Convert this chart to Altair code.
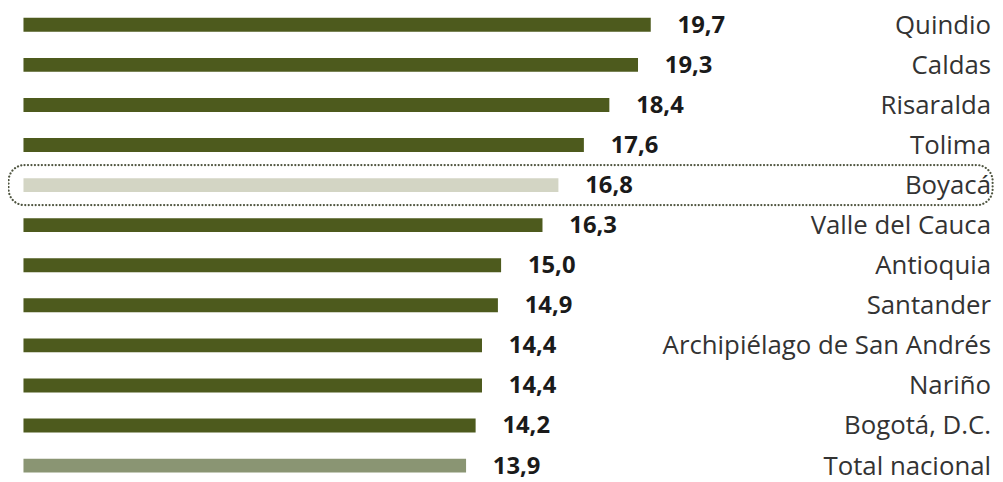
import altair as alt
import pandas as pd

categories = ["Quindio", "Caldas", "Risaralda", "Tolima", "Boyacá", "Valle del Cauca",
              "Antioquia", "Santander", "Archipiélago de San Andrés", "Nariño",
              "Bogotá, D.C.", "Total nacional"]
values = [19.7, 19.3, 18.4, 17.6, 16.8, 16.3, 15.0, 14.9, 14.4, 14.4, 14.2, 13.9]
groups = ["dep", "dep", "dep", "dep", "highlight", "dep",
          "dep", "dep", "dep", "dep", "dep", "total"]
highlight = ["Boyacá"]

df = pd.DataFrame({"categoria": categories, "valor": values, "grupo": groups})
df_hl = pd.DataFrame({"categoria": highlight})

W = 969.4
H = 474
FONT = "Open Sans"

y_enc = alt.Y("categoria:N", sort=categories, axis=None,
              scale=alt.Scale(range=[-5.2, 479.6], paddingInner=0, paddingOuter=0))
x_scale = alt.Scale(domain=[0, 30.2], nice=False, zero=True)

bars = alt.Chart(df).mark_bar(size=14).encode(
    x=alt.X("valor:Q", scale=x_scale, axis=None),
    y=y_enc,
    color=alt.Color("grupo:N", legend=None,
                    scale=alt.Scale(domain=["dep", "highlight", "total"],
                                    range=["#4d5a1d", "#d3d5c4", "#8a9573"])),
)

vals = alt.Chart(df).transform_calculate(
    etiqueta="replace(format(datum.valor, '.1f'), '.', ',')"
).mark_text(align="left", baseline="middle", dx=27, dy=1, font=FONT,
            fontSize=24, fontWeight="bold", color="#1a1a1a").encode(
    x=alt.X("valor:Q", scale=x_scale),
    y=y_enc,
    text="etiqueta:N",
)

cats = alt.Chart(df).mark_text(align="right", baseline="middle", dy=1, font=FONT,
                               fontSize=26, color="#333333").encode(
    x=alt.value(W + 6),
    y=y_enc,
    text="categoria:N",
)

box = alt.Chart(df_hl).mark_rect(filled=False, stroke="#4f5540", strokeWidth=2.2,
                                 strokeDash=[0.1, 3.4], strokeCap="round",
                                 cornerRadius=16).encode(
    x=alt.value(-15),
    x2=alt.value(977),
    y=y_enc,
)

chart = alt.layer(box, bars, vals, cats).properties(
    width=W, height=H,
    autosize=alt.AutoSizeParams(type="none"),
    padding={"left": 15.6, "top": 0, "right": 10, "bottom": 0},
).configure_view(stroke=None)

chart.save("out.html", embed_options={"renderer": "svg", "actions": False})
